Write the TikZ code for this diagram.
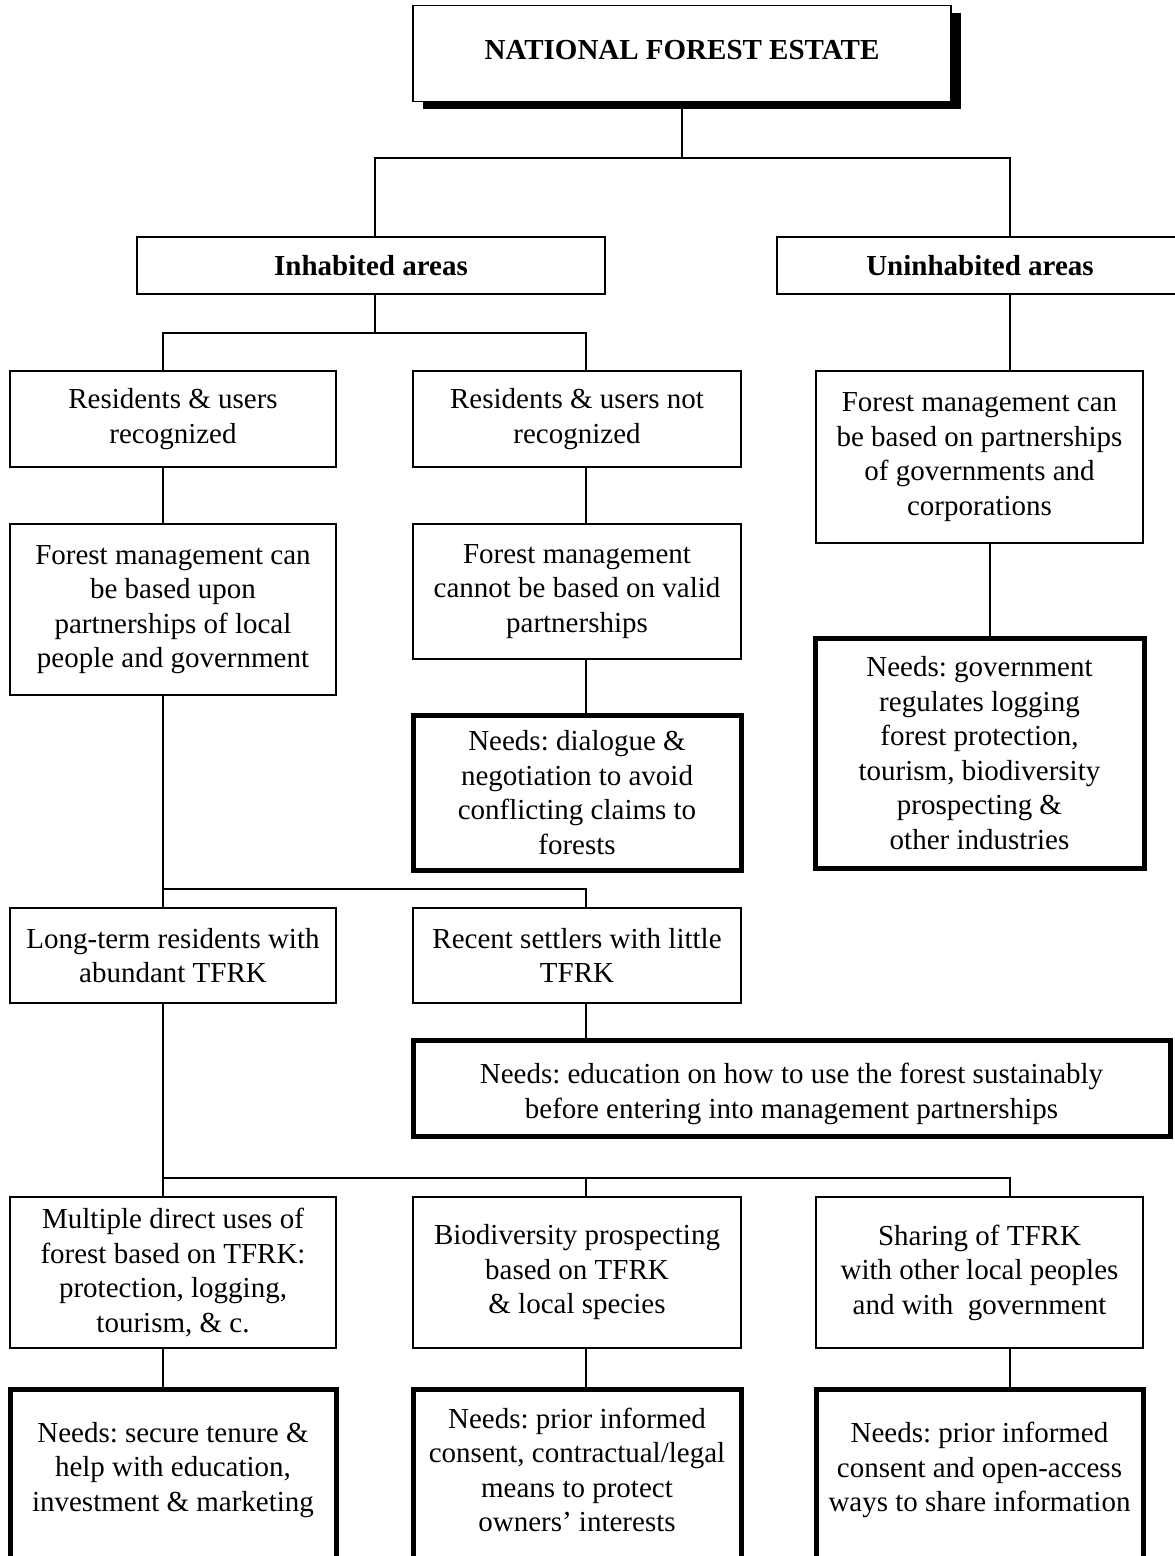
\documentclass[tikz,border=0pt]{standalone}
\usepackage{fontspec}
\setmainfont{Liberation Serif}
\usetikzlibrary{shadows}
\frenchspacing
\newcommand\fsz{\fontsize{29}{34.5}\selectfont}
\tikzset{
  box/.style={draw, line width=2pt, fill=white, align=center, inner sep=0pt, font=\fsz},
  needbox/.style={box, line width=5pt},
  txt/.style={align=center, inner sep=0pt, font=\fsz},
  link/.style={line width=2pt},
}
\begin{document}
\begin{tikzpicture}[x=1pt,y=-1pt]
\clip (0,0) rectangle (1175,1556);
\fill[white] (0,0) rectangle (1175,1556);

% top
\node[box, line width=1.3pt, minimum width=538pt, minimum height=96pt,
      drop shadow={shadow xshift=10pt, shadow yshift=-7pt, fill=black, opacity=1}] (top) at (682,53.7) {};
\node[txt, font=\fsz\bfseries] (toptxt) at (682,50) {NATIONAL FOREST ESTATE};

% level 1
\node[box, font=\fsz\bfseries, minimum width=468pt, minimum height=57pt] (inh) at (371,265.5) {Inhabited areas};
\node[box, font=\fsz\bfseries, minimum width=406pt, minimum height=57pt] (unh) at (980,265.5) {Uninhabited areas};

% level 2
\node[box, minimum width=326pt, minimum height=96pt] (ra) at (173,419) {Residents \& users\\recognized};
\node[box, minimum width=328pt, minimum height=96pt] (rb) at (577,419) {Residents \& users not\\recognized};
\node[box, minimum width=327pt, minimum height=172pt] (fr) at (979.5,457) {Forest management can\\be based on partnerships\\of governments and\\corporations\rule[-4pt]{0pt}{0pt}};

% level 3
\node[box, minimum width=326pt, minimum height=171pt] (fa) at (173,609.5) {Forest management can\\be based upon\\partnerships of local\\people and government};
\node[box, minimum width=328pt, minimum height=135pt] (fb) at (577,591.5) {Forest management\\cannot be based on valid\\partnerships};
\node[needbox, minimum width=328pt, minimum height=155pt] (nb) at (577,792.5) {Needs: dialogue \&\\negotiation to avoid\\conflicting claims to\\forests};
\node[needbox, minimum width=329pt, minimum height=230pt] (nr) at (979.5,753) {Needs: government\\regulates logging\\forest protection,\\tourism, biodiversity\\prospecting \&\\other industries};

% level 4
\node[box, minimum width=326pt, minimum height=95pt] (la) at (173,955.5) {Long-term residents with\\abundant TFRK};
\node[box, minimum width=328pt, minimum height=95pt] (lb) at (577,955.5) {Recent settlers with little\\TFRK};
\node[needbox, minimum width=757pt, minimum height=96pt] (ne) at (791.5,1088) {\rule{0pt}{32pt}Needs: education on how to use the forest sustainably\\before entering into management partnerships};

% level 5
\node[box, minimum width=326pt, minimum height=151pt] (ma) at (173,1272.5) {Multiple direct uses of\\forest based on TFRK:\\protection, logging,\\tourism, \& c.};
\node[box, minimum width=328pt, minimum height=151pt] (mb) at (577,1272.5) {Biodiversity prospecting\\based on TFRK\\\& local species};
\node[box, minimum width=327pt, minimum height=151pt] (mc) at (979.5,1272.5) {Sharing of TFRK\\with other local peoples\\and with\ \ government};

% level 6 (cut off at the bottom)
\node[needbox, anchor=north, minimum width=326pt, minimum height=200pt] (xa) at (173,1387) {};
\node[needbox, anchor=north, minimum width=328pt, minimum height=200pt] (xb) at (577,1387) {};
\node[needbox, anchor=north, minimum width=327pt, minimum height=200pt] (xc) at (979.5,1387) {};
\node[txt] (xat) at (173,1470) {Needs: secure tenure \&\\help with education,\\investment \& marketing};
\node[txt] (xbt) at (577,1470) {Needs: prior informed\\consent, contractual/legal\\means to protect\\owners' interests};
\node[txt] (xct) at (979.5,1470) {Needs: prior informed\\consent and open-access\\ways to share information};

% junction coordinates
\coordinate (j1l) at (375,158);
\coordinate (j1r) at (1010,158);
\coordinate (j2l) at (163,333);
\coordinate (j2r) at (586,333);
\coordinate (cR) at (990,0);
\coordinate (j3r) at (586,889);
\coordinate (j4r) at (1010,1178);

% connectors
\draw[link] (top.south) -- (top.south |- j1l);
\draw[link] (inh.north -| j1l) |- (j1r) -- (unh.north -| j1r);
\draw[link] (inh.south -| j1l) -- (j1l |- j2l);
\draw[link] (ra.north -| j2l) |- (j2r) -- (rb.north -| j2r);
\draw[link] (unh.south -| j1r) -- (fr.north -| j1r);
\draw[link] (ra.south -| j2l) -- (fa.north -| j2l);
\draw[link] (rb.south -| j2r) -- (fb.north -| j2r);
\draw[link] (fb.south -| j2r) -- (nb.north -| j2r);
\draw[link] (fr.south -| cR) -- (nr.north -| cR);
\draw[link] (fa.south -| j2l) -- (la.north -| j2l);
\draw[link] (j2l |- j3r) -- (j3r) -- (lb.north -| j3r);
\draw[link] (lb.south -| j2r) -- (ne.north -| j2r);
\draw[link] (la.south -| j2l) -- (ma.north -| j2l);
\draw[link] (j2l |- j4r) -- (j4r) -- (mc.north -| j4r);
\draw[link] (j2r |- j4r) -- (mb.north -| j2r);
\draw[link] (ma.south -| j2l) -- (xa.north -| j2l);
\draw[link] (mb.south -| j2r) -- (xb.north -| j2r);
\draw[link] (mc.south -| j4r) -- (xc.north -| j4r);
\end{tikzpicture}
\end{document}
